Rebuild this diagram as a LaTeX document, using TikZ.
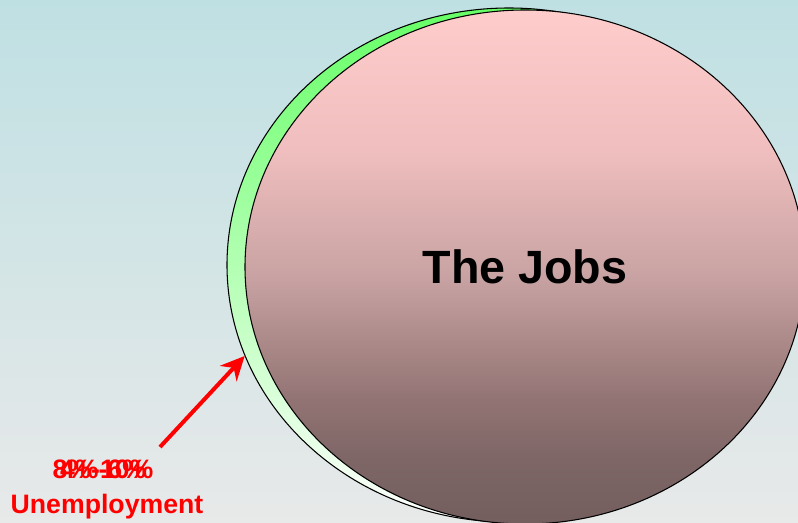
\documentclass[tikz,border=0pt]{standalone}
\usepackage{fontspec}
\setmainfont{Liberation Sans}
\usetikzlibrary{arrows.meta, shapes, positioning}
\definecolor{bgtop}{HTML}{BFE0E3}
\definecolor{bgbot}{HTML}{E8E9E9}
\definecolor{pinktop}{HTML}{FFCCCC}
\definecolor{pinkA}{HTML}{F0BEBE}
\definecolor{pinkB}{HTML}{C9A3A3}
\definecolor{pinkC}{HTML}{927373}
\definecolor{pinkD}{HTML}{7E6666}
\definecolor{pinkbot}{HTML}{735D5D}
\definecolor{greentop}{HTML}{66FF66}
\pgfdeclareverticalshading{jobsfill}{100bp}{color(0bp)=(pinkbot); color(25bp)=(pinkbot);
    color(31.25bp)=(pinkD); color(37bp)=(pinkC); color(49.2bp)=(pinkB); color(61.4bp)=(pinkA);
    color(75bp)=(pinktop); color(100bp)=(pinktop)}

\begin{document}
\begin{tikzpicture}[x=0.75pt, y=-0.75pt,
        blob/.style={ellipse, draw=black, line width=0.8pt, inner sep=0pt},
        redtext/.style={text=red, font=\bfseries\fontsize{20pt}{24pt}\selectfont, inner sep=0pt, anchor=base}]
        \useasboundingbox (0,0) rectangle (798,523);
        \clip (0,0) rectangle (798,523);
        \shade[top color=bgtop, bottom color=bgbot] (0,0) rectangle (798,523);

        \node[blob, top color=greentop, bottom color=white, minimum width=423pt, minimum height=385.5pt] (rim) at (509,265) {};
        \node[blob, shading=jobsfill, minimum width=420pt, minimum height=385.5pt,
              font=\bfseries\fontsize{35pt}{42pt}\selectfont] (jobs) at (525,267) {The Jobs};

        \node[redtext] (high) at (103,478) {8\%-10\%};
        \node[redtext] (low) at (high.base) {4\%-6\%};
        \node[redtext] (unemp) at (107,513) {Unemployment};

        \coordinate (tail) at (160,447);
        \draw[red, line width=3pt, -{Stealth[length=18pt, width=17pt]}] (tail) -- (rim.199);
    \end{tikzpicture}
\end{document}
